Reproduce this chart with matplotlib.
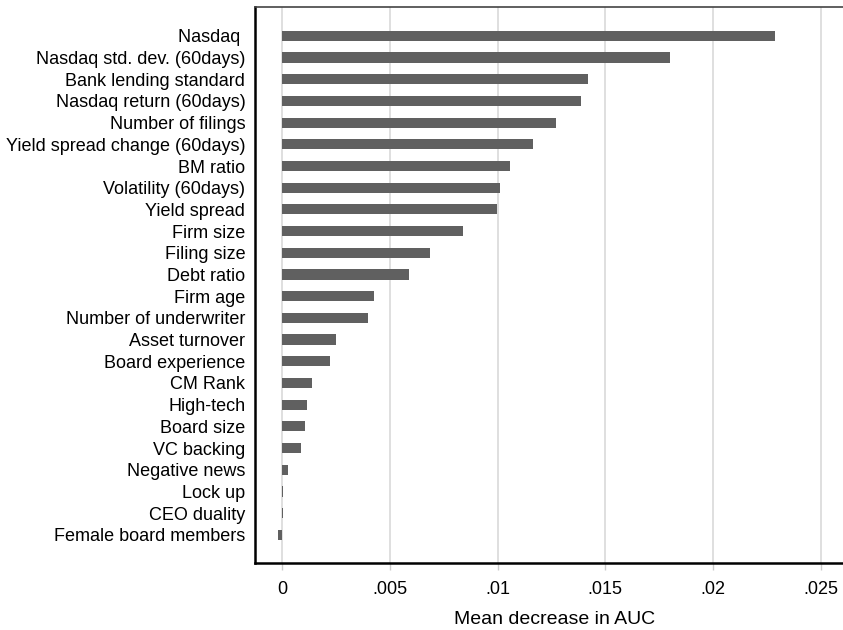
import matplotlib.pyplot as plt
import numpy as np

plt.rcParams["font.family"] = ["Liberation Sans", "DejaVu Sans"]

# permutation importance of each feature, top to bottom
features = [
    "Nasdaq ", "Nasdaq std. dev. (60days)", "Bank lending standard",
    "Nasdaq return (60days)", "Number of filings", "Yield spread change (60days)",
    "BM ratio", "Volatility (60days)", "Yield spread", "Firm size", "Filing size",
    "Debt ratio", "Firm age", "Number of underwriter", "Asset turnover",
    "Board experience", "CM Rank", "High-tech", "Board size", "VC backing",
    "Negative news", "Lock up", "CEO duality", "Female board members",
]
importance = [
    0.02287, 0.01800, 0.01419, 0.01387, 0.01271, 0.01164,
    0.01058, 0.01011, 0.00997, 0.00840, 0.00686, 0.00589,
    0.00427, 0.00399, 0.00250, 0.00223, 0.00139, 0.00116,
    0.00107, 0.00088, 0.00026, 0.00006, 0.00005, -0.00020,
]
xticks = [0, 0.005, 0.01, 0.015, 0.02, 0.025]
xticklabels = ["0", ".005", ".01", ".015", ".02", ".025"]

fig = plt.figure(figsize=(8.43, 6.30), dpi=100)
ax = fig.add_axes([255 / 843, 1 - 563 / 630, 600 / 843, (563 - 7) / 630])

pos = np.arange(len(features))
ax.barh(pos, importance, height=0.47, color="#606060", zorder=3)

ax.set_ylim(len(features) - 1 + 1.3, -1.33)
ax.set_xlim(-0.00125, -0.00125 + 600 / 21560)

ax.set_xticks(xticks)
ax.set_xticklabels(xticklabels, fontsize=13)
ax.set_yticks(pos)
ax.set_yticklabels(features, fontsize=13)
ax.tick_params(axis="y", length=0, pad=7)
ax.tick_params(axis="x", length=5, width=1, color="#cccccc", pad=8)
ax.xaxis.grid(True, color="#dcdcdc", linewidth=1.3, zorder=0)
ax.set_xlabel("Mean decrease in AUC", fontsize=14, labelpad=9)

for side in ["left", "bottom"]:
    ax.spines[side].set_linewidth(1.8)
    ax.spines[side].set_color("black")
ax.spines["top"].set_color("#444444")
ax.spines["top"].set_linewidth(1.2)
ax.spines["right"].set_visible(False)

fig.savefig("out.png", dpi=100)
